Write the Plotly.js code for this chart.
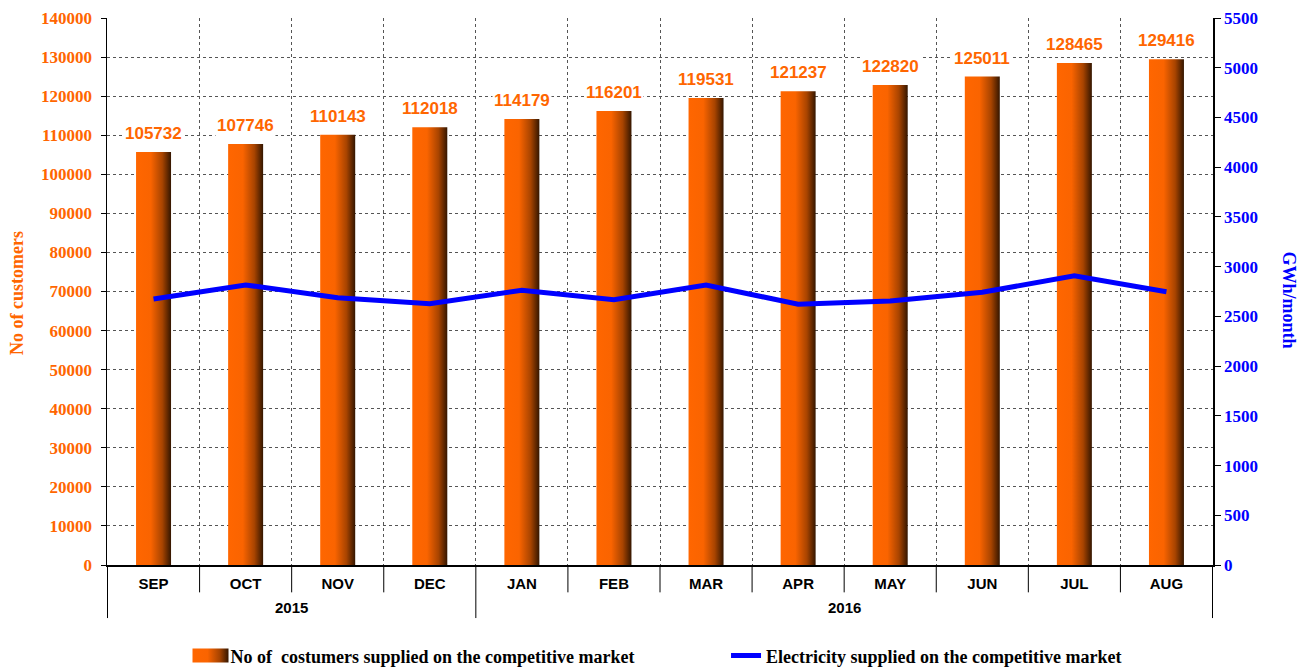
<!DOCTYPE html>
<html>
<head>
<meta charset="utf-8">
<script src="https://cdn.plot.ly/plotly-3.0.1.min.js"></script>
<style>
  html, body { margin: 0; padding: 0; background: #fff; }
  #chart { width: 1306px; height: 668px; }
</style>
</head>
<body>
<div id="chart"></div>
<script>
const months = ['SEP', 'OCT', 'NOV', 'DEC', 'JAN', 'FEB', 'MAR', 'APR', 'MAY', 'JUN', 'JUL', 'AUG'];
const years = ['2015', '2015', '2015', '2015', '2016', '2016', '2016', '2016', '2016', '2016', '2016', '2016'];
const customers = [105732, 107746, 110143, 112018, 114179, 116201, 119531, 121237, 122820, 125011, 128465, 129416];
const electricity = [2675, 2816, 2688, 2628, 2762, 2668, 2816, 2622, 2655, 2742, 2909, 2748];

const orange = '#FF6600';
const blue = '#0000FF';
const serif = 'Liberation Serif, Times New Roman, serif';
const sans = 'Liberation Sans, Arial, sans-serif';

const data = [{
    x: months, y: customers,
    type: 'bar', name: 'No of  costumers supplied on the competitive market',
    width: 0.38, legend: 'legend',
    marker: { color: orange, line: { width: 0 } }
}, {
    x: months, y: electricity,
    type: 'scatter', mode: 'lines', yaxis: 'y2', legend: 'legend2',
    name: 'Electricity supplied on the competitive market',
    line: { color: blue, width: 5 }
}];

// value labels above the bars, white box hides the grid behind
const notes = customers.map((v, i) => ({
    x: i, y: v, xref: 'x', yref: 'y',
    text: String(v), showarrow: false,
    yanchor: 'bottom', yshift: 7,
    bgcolor: '#fff', borderpad: 1,
    font: { family: sans, size: 17, color: orange, weight: 'bold' }
}));

// month boundaries (short) and year boundaries (long) under the axis
const shapes = [];
months.forEach((m, i) => {
    const yearEdge = i === 0 || years[i] !== years[i - 1];
    shapes.push({
        type: 'line', xref: 'x', yref: 'paper',
        x0: i - 0.5, x1: i - 0.5, y0: 0, y1: yearEdge ? -0.097 : -0.05,
        line: { color: '#000', width: 1 }
    });
});
shapes.push({
    type: 'line', xref: 'x', yref: 'paper',
    x0: months.length - 0.5, x1: months.length - 0.5, y0: 0, y1: -0.097,
    line: { color: '#000', width: 1 }
});

// year labels, centred under their months
[...new Set(years)].forEach(yr => {
    const first = years.indexOf(yr), last = years.lastIndexOf(yr);
    notes.push({
        x: (first + last) / 2, xref: 'x', y: -0.077, yref: 'paper',
        text: yr, showarrow: false, yanchor: 'middle',
        font: { family: sans, size: 15, color: '#000', weight: 'bold' }
    });
});

notes.push({
    text: 'No of customers', textangle: -90, showarrow: false,
    xref: 'paper', yref: 'paper', x: -0.082, y: 0.498, xanchor: 'center', yanchor: 'middle',
    font: { family: serif, size: 18, color: orange, weight: 'bold' }
});
notes.push({
    text: 'GWh/month', textangle: 90, showarrow: false,
    xref: 'paper', yref: 'paper', x: 1.069, y: 0.485, xanchor: 'center', yanchor: 'middle',
    font: { family: serif, size: 18, color: blue, weight: 'bold' }
});

const legendFont = { family: serif, size: 18, color: '#000', weight: 'bold' };

const layout = {
    width: 1306, height: 668,
    margin: { l: 107, r: 93, t: 18, b: 103, autoexpand: false },
    paper_bgcolor: '#fff', plot_bgcolor: '#fff',
    showlegend: true,
    legend: {
        orientation: 'h', x: 0.0755, xanchor: 'left', y: -0.166, yanchor: 'middle',
        font: legendFont
    },
    legend2: {
        orientation: 'h', x: 0.5597, xanchor: 'left', y: -0.166, yanchor: 'middle',
        font: legendFont
    },
    xaxis: {
        type: 'category', automargin: false,
        showline: true, linecolor: '#000', linewidth: 1.5,
        ticks: '', tickson: 'boundaries', ticklabelstandoff: 4,
        showgrid: true, gridcolor: '#555', griddash: 'dot', gridwidth: 1,
        tickfont: { family: sans, size: 15, color: '#000', weight: 'bold' }
    },
    yaxis: {
        range: [0, 140000], dtick: 10000, tickformat: 'd', automargin: false,
        showline: true, linecolor: '#000', linewidth: 1.5,
        ticks: 'outside', ticklen: 5, tickcolor: '#000', ticklabelstandoff: 5,
        showgrid: true, gridcolor: '#555', griddash: 'dot', gridwidth: 1,
        zeroline: false,
        tickfont: { family: serif, size: 17, color: orange, weight: 'bold' }
    },
    yaxis2: {
        overlaying: 'y', side: 'right', automargin: false,
        range: [0, 5500], dtick: 500, tickformat: 'd',
        showline: true, linecolor: '#000', linewidth: 1.5,
        ticks: 'outside', ticklen: 6, tickcolor: '#000',
        showgrid: false, zeroline: false,
        tickfont: { family: serif, size: 17, color: blue, weight: 'bold' }
    },
    shapes: shapes,
    annotations: notes
};

// Plotly has no gradient fill for bars, so add one to the drawn svg
function paintBars(gd) {
    const svg = gd.querySelector('svg.main-svg');
    const ns = 'http://www.w3.org/2000/svg';
    let defs = svg.querySelector('defs');
    if (!defs) { defs = document.createElementNS(ns, 'defs'); svg.prepend(defs); }
    const grad = document.createElementNS(ns, 'linearGradient');
    grad.setAttribute('id', 'barGrad');
    grad.setAttribute('x1', '0'); grad.setAttribute('x2', '1');
    grad.setAttribute('y1', '0'); grad.setAttribute('y2', '0');
    [['0', '#FF6600'], ['0.42', '#FA6400'], ['0.75', '#A84400'], ['1', '#341600']].forEach(([o, c]) => {
        const s = document.createElementNS(ns, 'stop');
        s.setAttribute('offset', o); s.setAttribute('stop-color', c);
        grad.appendChild(s);
    });
    defs.appendChild(grad);
    gd.querySelectorAll('.bars .point path').forEach(p => { p.style.fill = 'url(#barGrad)'; });
    // wide swatch for the bar entry in the legend, like the original
    gd.querySelectorAll('.legend .legendpoints .legendbar path, .legend .legendpoints path.legendundefined').forEach(p => {
        p.setAttribute('d', 'M-18,-7h36v14h-36z');
        p.style.fill = 'url(#barGrad)';
    });
}

Plotly.newPlot('chart', data, layout, { displayModeBar: false, staticPlot: true }).then(paintBars);
</script>
</body>
</html>
